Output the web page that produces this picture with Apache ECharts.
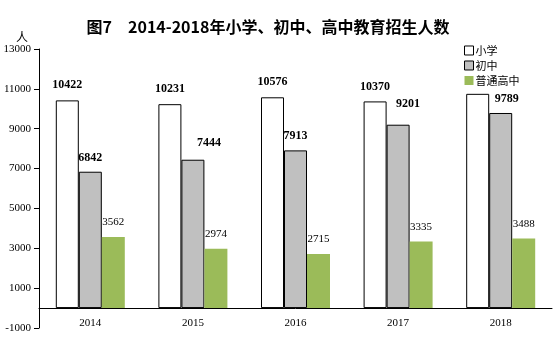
<!DOCTYPE html>
<html>
<head>
<meta charset="utf-8">
<script src="https://cdn.jsdelivr.net/npm/echarts@6/dist/echarts.min.js"></script>
<style>
  html, body { margin: 0; padding: 0; background: #fff; }
  #myChart { width: 554px; height: 354px; }
</style>
</head>
<body>
<div id="myChart"></div>
<script>
// 年份
var years = ['2014', '2015', '2016', '2017', '2018'];
// 招生人数（人），2018年小学无标注，按柱高估计
var primary = [10422, 10231, 10576, 10370, 10750];
var juniorMid = [6842, 7444, 7913, 9201, 9789];
var seniorMid = [3562, 2974, 2715, 3335, 3488];
var seriesNames = ['小学', '初中', '普通高中'];

var numFont = '"Liberation Serif", "Times New Roman", serif';
var cjkFont = '"Noto Sans CJK SC", sans-serif';

// 个别标签位置微调
var juniorOffsets = [[0, 0], [16, -3], [0, 0], [10, -7], [6, 0]];

var myChart = echarts.init(document.getElementById('myChart'));
myChart.setOption({
    backgroundColor: '#fff',
    animation: false,
    title: [{
        text: '图7　2014-2018年小学、初中、高中教育招生人数',
        left: 263,
        textAlign: 'center',
        top: 14,
        textStyle: {
            fontFamily: cjkFont,
            fontSize: 16,
            fontWeight: 'bold',
            color: '#000'
        }
    }, {
        text: '人',
        left: 11,
        top: 26,
        textStyle: {
            fontFamily: cjkFont,
            fontSize: 12,
            fontWeight: 'normal',
            color: '#000'
        }
    }],
    legend: {
        orient: 'vertical',
        left: 459,
        top: 40,
        itemWidth: 9,
        itemHeight: 9,
        itemGap: 4,
        textStyle: {
            fontFamily: cjkFont,
            fontSize: 11,
            color: '#000',
            padding: [0, 0, 0, -3]
        },
        data: [
            { name: seriesNames[0], icon: 'rect', itemStyle: { color: '#fff', borderColor: '#000', borderWidth: 1 } },
            { name: seriesNames[1], icon: 'rect', itemStyle: { color: '#c0c0c0', borderColor: '#000', borderWidth: 1 } },
            { name: seriesNames[2], icon: 'rect', itemStyle: { color: '#9bbb59', borderWidth: 0 } }
        ]
    },
    grid: {
        left: 39,
        right: 2,
        top: 49,
        bottom: 26
    },
    xAxis: {
        type: 'category',
        data: years,
        axisLine: {
            onZero: true,
            lineStyle: { color: '#000', width: 1 }
        },
        axisTick: { show: false },
        axisLabel: {
            fontFamily: numFont,
            fontSize: 11,
            color: '#000',
            margin: -10
        }
    },
    yAxis: {
        type: 'value',
        min: -1000,
        max: 13000,
        interval: 2000,
        axisLine: {
            show: true,
            lineStyle: { color: '#000', width: 1 }
        },
        axisTick: {
            show: true,
            length: 5,
            lineStyle: { color: '#000' }
        },
        splitLine: { show: false },
        axisLabel: {
            fontFamily: numFont,
            fontSize: 11,
            color: '#000',
            margin: 8,
            formatter: function (v) { return String(v); }
        }
    },
    series: [{
        name: seriesNames[0],
        type: 'bar',
        barWidth: 23,
        barGap: '0%',
        data: primary.map(function (v, i) {
            return i === 4 ? { value: v, label: { show: false } } : v;
        }),
        itemStyle: { color: '#fff', borderColor: '#000', borderWidth: 1 },
        label: {
            show: true,
            position: 'top',
            distance: 9,
            fontFamily: numFont,
            fontSize: 12,
            fontWeight: 'bold',
            color: '#000'
        }
    }, {
        name: seriesNames[1],
        type: 'bar',
        barWidth: 23,
        barGap: '0%',
        data: juniorMid.map(function (v, i) {
            return { value: v, label: { offset: juniorOffsets[i] } };
        }),
        itemStyle: { color: '#c0c0c0', borderColor: '#000', borderWidth: 1 },
        label: {
            show: true,
            position: 'top',
            distance: 8,
            fontFamily: numFont,
            fontSize: 12,
            fontWeight: 'bold',
            color: '#000'
        }
    }, {
        name: seriesNames[2],
        type: 'bar',
        barWidth: 23,
        barGap: '0%',
        data: seniorMid,
        itemStyle: { color: '#9bbb59' },
        label: {
            show: true,
            position: 'top',
            distance: 9,
            fontFamily: numFont,
            fontSize: 11,
            color: '#000'
        }
    }]
});
</script>
</body>
</html>
